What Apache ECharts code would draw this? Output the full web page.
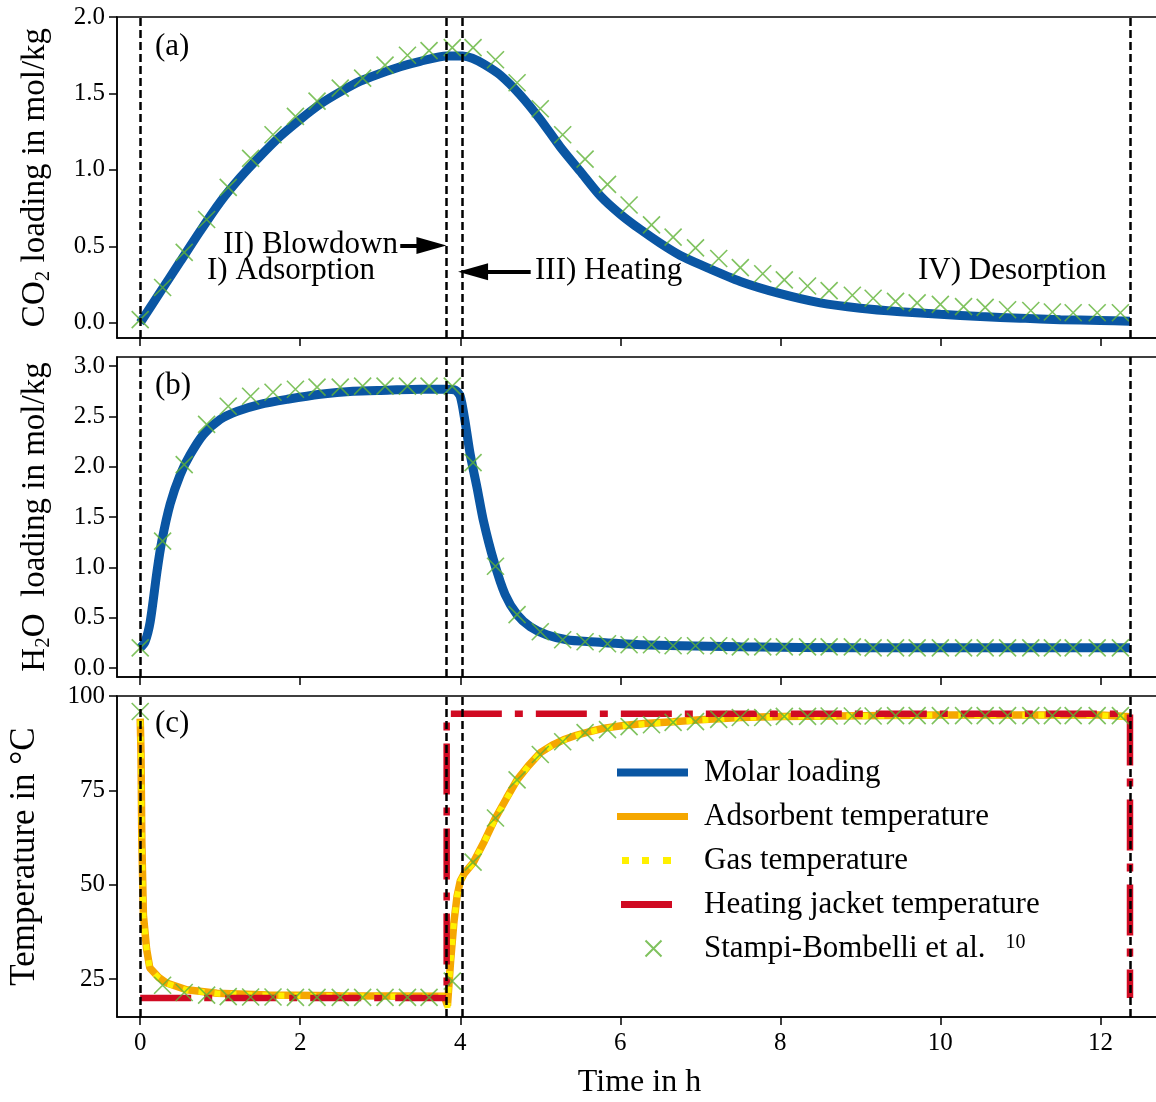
<!DOCTYPE html>
<html>
<head>
<meta charset="utf-8">
<script src="https://cdn.jsdelivr.net/npm/echarts@6/dist/echarts.min.js"></script>
<style>
  html, body { margin: 0; padding: 0; background: #fff; }
  #chart { width: 1156px; height: 1102px; }
</style>
</head>
<body>
<div id="chart"></div>
<script>
// experimental points (Stampi-Bombelli et al.)
const expTime = [0, 0.28, 0.55, 0.83, 1.1, 1.38, 1.66, 1.94, 2.21, 2.5,
  2.78, 3.06, 3.34, 3.61, 3.9, 4.16, 4.44, 4.71, 5.0, 5.28,
  5.56, 5.84, 6.11, 6.39, 6.66, 6.94, 7.23, 7.5, 7.78, 8.05,
  8.34, 8.61, 8.9, 9.16, 9.44, 9.71, 10.0, 10.29, 10.56, 10.84,
  11.13, 11.4, 11.66, 11.96, 12.25];
const co2Exp = [0.02, 0.23, 0.46, 0.675, 0.885, 1.075, 1.23, 1.35, 1.45, 1.535,
  1.6, 1.685, 1.75, 1.78, 1.8, 1.8, 1.72, 1.57, 1.4, 1.23,
  1.07, 0.905, 0.77, 0.64, 0.56, 0.49, 0.42, 0.36, 0.32, 0.28,
  0.24, 0.21, 0.18, 0.16, 0.14, 0.13, 0.12, 0.105, 0.1, 0.085,
  0.08, 0.07, 0.065, 0.065, 0.065];
const h2oExp = [0.2, 1.26, 2.02, 2.42, 2.6, 2.7, 2.74, 2.77, 2.79, 2.79,
  2.8, 2.8, 2.8, 2.8, 2.8, 2.04, 1.01, 0.53, 0.36, 0.28,
  0.26, 0.24, 0.23, 0.23, 0.22, 0.22, 0.22, 0.21, 0.21, 0.21,
  0.21, 0.21, 0.21, 0.2, 0.2, 0.2, 0.2, 0.2, 0.2, 0.2,
  0.2, 0.2, 0.2, 0.2, 0.2];
const tempExp = [95.9, 23.4, 21.5, 20.8, 20.4, 20.3, 20.3, 20.2, 20.2, 20.2,
  20.2, 20.2, 20.2, 20.2, 24.5, 56, 67.7, 77.8, 84.5, 87.9,
  90.3, 91.1, 91.9, 92.4, 93.0, 93.2, 93.8, 94.3, 94.3, 94.6,
  94.6, 94.7, 94.7, 94.7, 94.8, 94.8, 94.8, 94.8, 94.8, 94.8,
  94.8, 94.8, 94.8, 94.8, 94.8];

// model: molar loading
const co2Time = [0, 0.25, 0.5, 0.75, 1.0, 1.25, 1.5, 1.75, 2.0, 2.25, 2.5, 2.75, 3.0, 3.25, 3.5,
  3.83, 4.03, 4.15, 4.3, 4.5, 4.75, 5.0, 5.25, 5.5, 5.75, 6.0, 6.25, 6.5, 6.75, 7.0,
  7.5, 8.0, 8.5, 9.0, 9.5, 10.0, 10.5, 11.0, 11.5, 12.0, 12.37];
const co2Model = [0, 0.2, 0.4, 0.6, 0.79, 0.95, 1.09, 1.22, 1.33, 1.43, 1.51, 1.58, 1.63, 1.675, 1.71,
  1.745, 1.745, 1.73, 1.69, 1.62, 1.49, 1.33, 1.15, 0.99, 0.83, 0.71, 0.61, 0.52, 0.44, 0.38,
  0.27, 0.19, 0.13, 0.095, 0.072, 0.055, 0.04, 0.03, 0.02, 0.015, 0.01];
const h2oTime = [0, 0.06, 0.125, 0.21, 0.27, 0.375, 0.5, 0.625, 0.79, 1.0, 1.21, 1.5, 1.84, 2.25,
  2.66, 3.09, 3.5, 3.83, 3.94, 4.0, 4.06, 4.125, 4.21, 4.29, 4.42, 4.56, 4.71, 4.875,
  5.08, 5.33, 5.62, 6.25, 7.5, 9.0, 10.5, 12.37];
const h2oModel = [0.2, 0.26, 0.46, 0.96, 1.26, 1.63, 1.92, 2.12, 2.32, 2.47, 2.55, 2.62, 2.67, 2.72,
  2.75, 2.76, 2.77, 2.77, 2.76, 2.7, 2.45, 2.12, 1.79, 1.46, 1.06, 0.73, 0.53, 0.41,
  0.33, 0.28, 0.26, 0.23, 0.21, 0.2, 0.2, 0.2];

// model: temperatures
const tempTime = [0, 0.01, 0.02, 0.04, 0.08, 0.12, 0.23, 0.33, 0.58, 0.96,
  1.6, 2.5, 3.8, 3.84, 3.86, 3.88, 3.92, 3.96, 4.0, 4.05,
  4.16, 4.3, 4.44, 4.58, 4.71, 4.85, 5.0, 5.15, 5.29, 5.45,
  5.62, 5.8, 6.04, 6.3, 6.66, 7.0, 7.5, 8.0, 9.0, 10.0,
  11.0, 12.0, 12.37];
const adsTemp = [94, 85, 62, 42, 33, 28, 25.5, 24, 22.2, 21.3,
  20.8, 20.6, 20.5, 18, 24, 30, 40, 47, 51, 53,
  55.8, 61.5, 67.7, 73, 77.8, 81.5, 85, 87, 88.4, 89.6,
  90.6, 91.5, 92.2, 92.7, 93.2, 93.7, 94.3, 94.6, 94.8, 95,
  95, 95, 94.5];
const gasTemp = [93.5, 84, 61, 41.5, 32.8, 27.9, 25.4, 23.9, 22.1, 21.2,
  20.7, 20.5, 20.4, 17.5, 24, 30, 40, 47, 51, 53,
  55.7, 61.4, 67.6, 72.9, 77.7, 81.4, 84.9, 86.9, 88.3, 89.5,
  90.5, 91.4, 92.1, 92.6, 93.1, 93.6, 94.2, 94.5, 94.7, 94.9,
  94.9, 94.9, 94.4];
const jacketTime = [0, 3.83, 3.83, 12.37, 12.37];
const jacketTemp = [20, 20, 95.3, 95.3, 20];

const phaseBounds = [0, 3.83, 4.03, 12.37];
const xTicks = [0, 2, 4, 6, 8, 10, 12];
const co2Ticks = [0, 0.5, 1.0, 1.5, 2.0];
const h2oTicks = [0, 0.5, 1.0, 1.5, 2.0, 2.5, 3.0];
const tempTicks = [25, 50, 75, 100];

const FONT = 'Liberation Serif';
const BLUE = '#0a56a3', ORANGE = '#f5a700', YELLOW = '#fff000', RED = '#d00a22', GREEN = '#5fb336';
const EXP_NAME = 'Stampi-Bombelli et al. 10';
const zip = (xs, ys) => xs.map((x, i) => [x, ys[i]]);

const chart = echarts.init(document.getElementById('chart'));

const gridBase = { left: 117, width: 1045, show: true, borderColor: '#000', borderWidth: 1.5,
  backgroundColor: 'transparent', containLabel: false, outerBoundsMode: 'none' };
const grids = [
  Object.assign({ top: 17, height: 321 }, gridBase),
  Object.assign({ top: 357, height: 320 }, gridBase),
  Object.assign({ top: 696, height: 321 }, gridBase),
];

function xAxis(i) {
  return {
    type: 'value', gridIndex: i, min: -0.29, max: 12.77,
    splitLine: { show: false },
    axisLine: { show: true, onZero: false, lineStyle: { color: '#000', width: 1.5 } },
    axisTick: { show: true, length: 8, lineStyle: { color: '#000', width: 1.5 }, customValues: xTicks },
    axisLabel: { show: i === 2, customValues: xTicks, margin: 14, color: '#000', fontFamily: FONT, fontSize: 25 },
    name: i === 2 ? 'Time in h' : '', nameLocation: 'middle', nameGap: 50,
    nameTextStyle: { color: '#000', fontFamily: FONT, fontSize: 32 },
  };
}
function yAxis(i, min, max, ticks, digits, name, gap, size) {
  return {
    type: 'value', gridIndex: i, min: min, max: max,
    splitLine: { show: false },
    axisLine: { show: true, onZero: false, lineStyle: { color: '#000', width: 1.5 } },
    axisTick: { show: true, length: 8, lineStyle: { color: '#000', width: 1.5 }, customValues: ticks },
    axisLabel: { customValues: ticks, margin: 12, color: '#000', fontFamily: FONT, fontSize: 25,
      formatter: v => v.toFixed(digits) },
    name: name, nameLocation: 'middle', nameGap: gap,
    nameTextStyle: { color: '#000', fontFamily: FONT, fontSize: size, lineHeight: 38,
      rich: {
        a: { fontFamily: FONT, fontSize: size, lineHeight: 38, color: '#000' },
        s: { fontFamily: FONT, fontSize: 21, lineHeight: 21, verticalAlign: 'bottom', color: '#000' },
      } },
  };
}

const vLines = phaseBounds.map(t => ({ xAxis: t }));
const dashStyle = { color: '#000', type: [8, 4], width: 2.5 };
const arrowHead = 'path://M5,0L10,20L0,20Z';

function expSeries(i, values) {
  return {
    name: EXP_NAME, type: 'scatter', xAxisIndex: i, yAxisIndex: i, z: 4,
    data: zip(expTime, values),
    symbol: 'path://M0,0L10,10M10,0L0,10', symbolSize: 17,
    itemStyle: { color: GREEN, borderColor: GREEN, borderWidth: 1.6 },
    silent: true,
    markLine: { silent: true, symbol: ['none', 'none'], label: { show: false },
      lineStyle: dashStyle, data: vLines.slice() },
  };
}

const co2Exp0 = expSeries(0, co2Exp);
co2Exp0.markLine.data.push(
  [{ coord: [3.25, 0.505], lineStyle: { color: '#000', type: 'solid', width: 4 } },
   { coord: [3.64, 0.505], symbol: arrowHead, symbolSize: [17, 30] }],
  [{ coord: [4.88, 0.334], lineStyle: { color: '#000', type: 'solid', width: 4 } },
   { coord: [4.16, 0.334], symbol: arrowHead, symbolSize: [17, 30] }]
);

function modelLine(name, i, data, color, width, extra) {
  return Object.assign({
    name: name, type: 'line', xAxisIndex: i, yAxisIndex: i, data: data,
    showSymbol: false, symbol: 'none', z: 2,
    lineStyle: { color: color, width: width },
    itemStyle: { color: color, borderWidth: 0 },
  }, extra || {});
}

const annot = (text, pos) => Object.assign({ type: 'text',
  style: { text: text, font: '31px "Liberation Serif"', fill: '#000' } }, pos);

// legend samples drawn in a fixed 73 x 16 box (the M0,0M73,16 corners pin the box)
const BOX = 'M0,0M73,16';
const option = {
  animation: false,
  backgroundColor: '#fff',
  textStyle: { fontFamily: FONT },
  grid: grids,
  xAxis: [xAxis(0), xAxis(1), xAxis(2)],
  yAxis: [
    yAxis(0, -0.1, 2.0, co2Ticks, 1, '{a|CO}{s|2}{a| loading in mol/kg}', 63, 33),
    yAxis(1, -0.09, 3.09, h2oTicks, 1, '{a|H}{s|2}{a|O  loading in mol/kg}', 63, 33),
    yAxis(2, 15, 100, tempTicks, 0, 'Temperature in °C', 73, 35),
  ],
  legend: {
    data: [
      { name: 'Molar loading', icon: 'path://M0,4h71v8h-71z' + BOX },
      { name: 'Adsorbent temperature', icon: 'path://M0,4.5h71v7h-71z' + BOX },
      { name: 'Gas temperature', icon: 'path://M5,4.5h7v7h-7zM25,4.5h7v7h-7zM46,4.5h8v7h-8z' + BOX },
      { name: 'Heating jacket temperature', icon: 'path://M4,4.5h51v7h-51z' + BOX },
      EXP_NAME,
    ],
    orient: 'vertical', left: 612, top: 752, itemWidth: 73, itemHeight: 16, itemGap: 13,
    symbolKeepAspect: true,
    textStyle: { color: '#000', fontFamily: FONT, fontSize: 31, lineHeight: 31, padding: [0, 0, 0, 9],
      rich: {
        n: { fontFamily: FONT, fontSize: 31, lineHeight: 31, color: '#000' },
        sup: { fontFamily: FONT, fontSize: 20, lineHeight: 18, verticalAlign: 'top', color: '#000' },
      } },
    formatter: n => n === EXP_NAME ? '{n|Stampi-Bombelli et al.}{sup|    10}' : n,
    selectedMode: false,
  },
  series: [
    modelLine('Molar loading', 0, zip(co2Time, co2Model), BLUE, 9, { smooth: 0.25 }),
    co2Exp0,
    modelLine('Molar loading', 1, zip(h2oTime, h2oModel), BLUE, 9, { smooth: 0.25 }),
    expSeries(1, h2oExp),
    modelLine('Adsorbent temperature', 2, zip(tempTime, adsTemp), ORANGE, 7.5),
    modelLine('Gas temperature', 2, zip(tempTime, gasTemp), YELLOW, 6,
      { lineStyle: { color: YELLOW, width: 6, type: [6, 10], cap: 'butt' } }),
    modelLine('Heating jacket temperature', 2, zip(jacketTime, jacketTemp), RED, 6.5,
      { z: 3, lineStyle: { color: RED, width: 6.5, type: [51, 13, 8, 13], cap: 'butt' } }),
    expSeries(2, tempExp),
  ],
  graphic: [
    annot('(a)', { left: 155, top: 31 }),
    annot('(b)', { left: 155, top: 370 }),
    annot('(c)', { left: 155, top: 708 }),
    annot('II) Blowdown', { right: 1156 - 398, top: 229 }),
    annot('I) Adsorption', { left: 207, top: 255 }),
    annot('III) Heating', { left: 535, top: 255 }),
    annot('IV) Desorption', { left: 918, top: 255 }),
  ],
};
chart.setOption(option);
</script>
</body>
</html>
